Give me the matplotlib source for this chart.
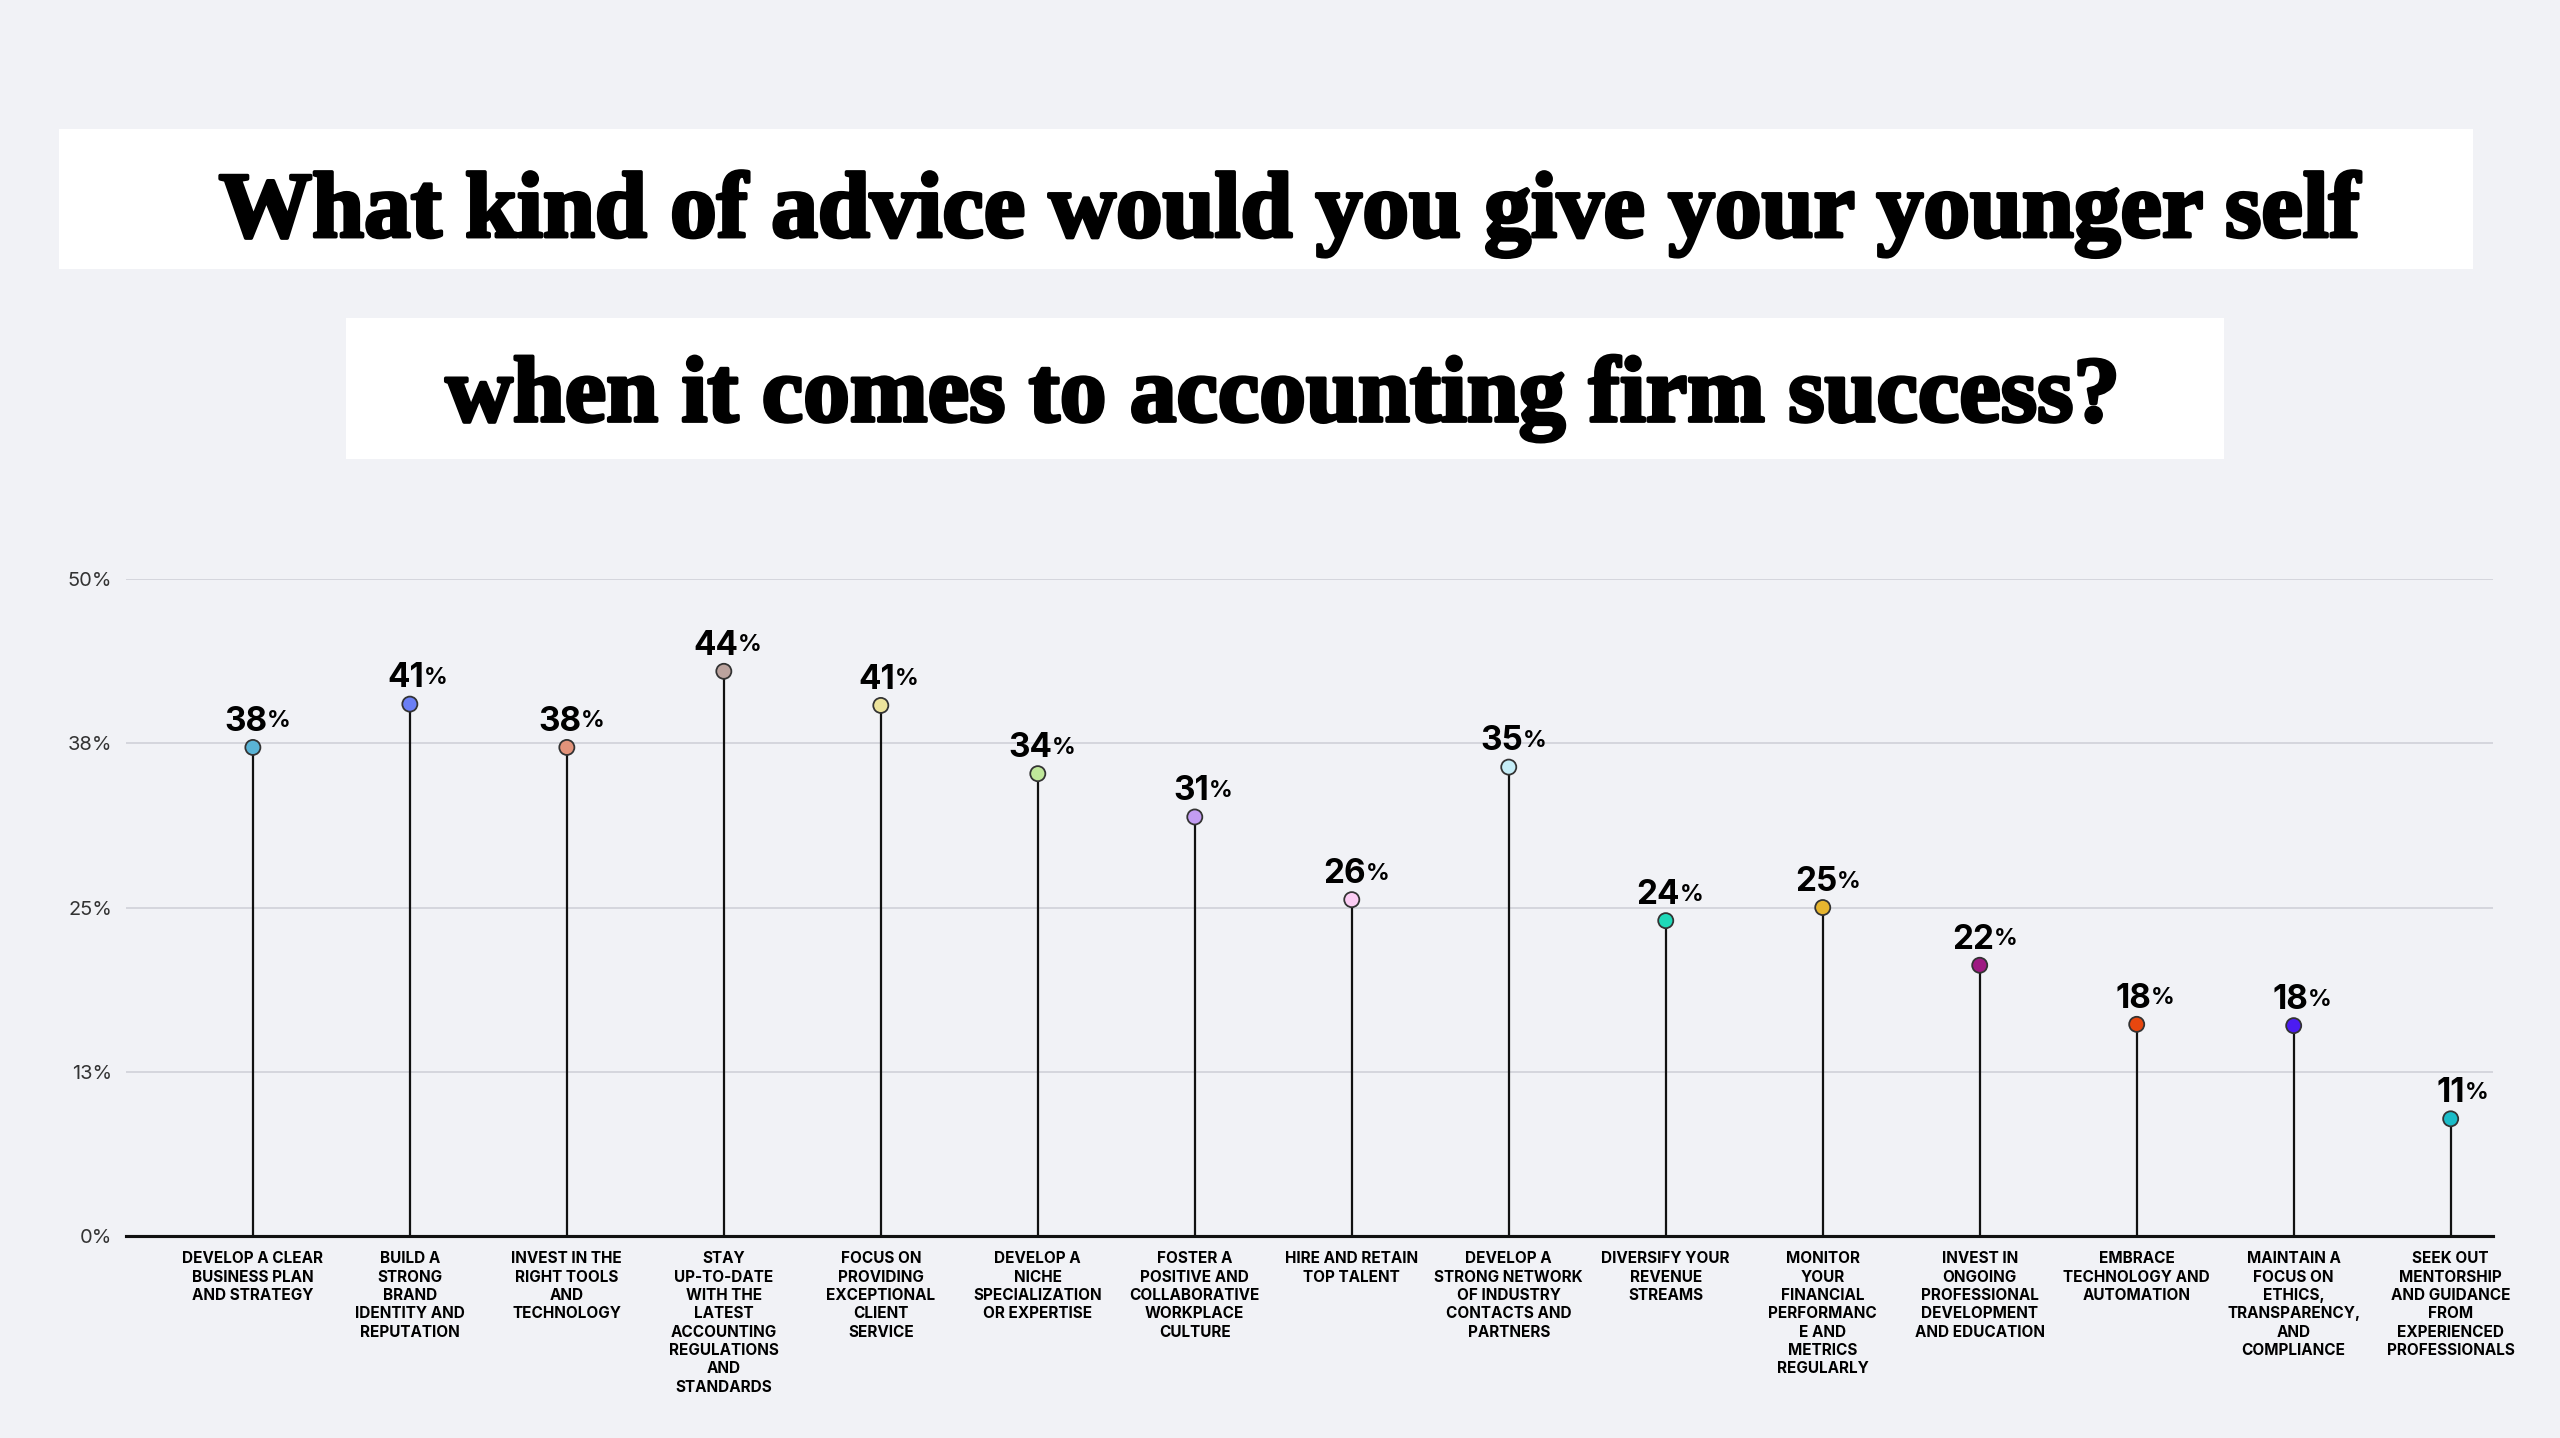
import numpy as np
import matplotlib.pyplot as plt
import matplotlib.patheffects as pe
from matplotlib.patches import Rectangle

# answer categories (wrapped like the original slide)
categories = [
    "DEVELOP A CLEAR\nBUSINESS PLAN\nAND STRATEGY",
    "BUILD A\nSTRONG\nBRAND\nIDENTITY AND\nREPUTATION",
    "INVEST IN THE\nRIGHT TOOLS\nAND\nTECHNOLOGY",
    "STAY\nUP-TO-DATE\nWITH THE\nLATEST\nACCOUNTING\nREGULATIONS\nAND\nSTANDARDS",
    "FOCUS ON\nPROVIDING\nEXCEPTIONAL\nCLIENT\nSERVICE",
    "DEVELOP A\nNICHE\nSPECIALIZATION\nOR EXPERTISE",
    "FOSTER A\nPOSITIVE AND\nCOLLABORATIVE\nWORKPLACE\nCULTURE",
    "HIRE AND RETAIN\nTOP TALENT",
    "DEVELOP A\nSTRONG NETWORK\nOF INDUSTRY\nCONTACTS AND\nPARTNERS",
    "DIVERSIFY YOUR\nREVENUE\nSTREAMS",
    "MONITOR\nYOUR\nFINANCIAL\nPERFORMANC\nE AND\nMETRICS\nREGULARLY",
    "INVEST IN\nONGOING\nPROFESSIONAL\nDEVELOPMENT\nAND EDUCATION",
    "EMBRACE\nTECHNOLOGY AND\nAUTOMATION",
    "MAINTAIN A\nFOCUS ON\nETHICS,\nTRANSPARENCY,\nAND\nCOMPLIANCE",
    "SEEK OUT\nMENTORSHIP\nAND GUIDANCE\nFROM\nEXPERIENCED\nPROFESSIONALS",
]
# printed percentages
pct_labels = [38, 41, 38, 44, 41, 34, 31, 26, 35, 24, 25, 22, 18, 18, 11]
# where the dots actually sit on the axis
dot_heights = [37.2, 40.5, 37.2, 43.0, 40.4, 35.2, 31.9, 25.6, 35.7, 24.0, 25.0, 20.6, 16.1, 16.0, 8.9]
dot_colors = ["#5ab4d6", "#6b7ff5", "#e3937a", "#bba39e", "#ece39c", "#bfe79a", "#c29cf2",
              "#fccdf4", "#c6eef8", "#1fd9b9", "#e6b52f", "#9e1a82", "#e8470f", "#4b1cf2", "#1bbcc8"]
yticks = [0, 12.5, 25, 37.5, 50]
ytick_labels = ["0%", "13%", "25%", "38%", "50%"]
title_lines = ["What kind of advice would you give your younger self",
               "when it comes to accounting firm success?"]

bg = "#f1f2f6"
W, H = 1568, 881  # layout measured on a 1568 wide view of the slide

fig = plt.figure(figsize=(16, 8.9875), dpi=160, facecolor=bg)

# title boxes (white strips behind each title line)
boxes = [(36, 79, 1515, 165), (212, 195, 1362, 281)]
text_x = [790, 786]
baselines = [145, 258]
for (x0, y0, x1, y1), tx, base, line in zip(boxes, text_x, baselines, title_lines):
    fig.patches.append(Rectangle((x0 / W, 1 - y1 / H), (x1 - x0) / W, (y1 - y0) / H,
                                 transform=fig.transFigure, facecolor="white", edgecolor="none"))
    fig.text(tx / W, 1 - base / H, line, ha="center", va="baseline",
             fontsize=42, fontweight="bold", family="Liberation Serif", color="black",
             path_effects=[pe.withStroke(linewidth=1.6, foreground="black")])

ax = fig.add_axes([77 / W, 1 - 757 / H, 1450 / W, (757 - 355) / H])
ax.set_facecolor(bg)

x = np.arange(len(categories))
ax.vlines(x, 0, dot_heights, color="#111111", lw=1.0, zorder=2)
ax.scatter(x, dot_heights, s=46, c=dot_colors, edgecolors="#333333", linewidths=0.8, zorder=3, clip_on=False)

for xi, h, p in zip(x, dot_heights, pct_labels):
    t = ax.annotate(str(p), xy=(xi, h), xytext=(6.5, 7.5), textcoords="offset points",
                    ha="right", va="baseline", fontsize=15, fontweight="bold",
                    family="Inter", color="black")
    ax.annotate("%", xy=(1, 0), xycoords=t, xytext=(0, 2.4), textcoords="offset points",
                ha="left", va="bottom", fontsize=10.5, fontweight="bold", family="Inter", color="black")

ax.set_xlim(-0.81, len(categories) - 1 + 0.27)
ax.set_ylim(0, 50)
ax.set_yticks(yticks)
ax.set_yticklabels(ytick_labels, family="Inter", fontsize=9, color="#333333")
ax.set_xticks(x)
ax.set_xticklabels(categories, family="Inter", fontsize=6.9, fontweight="bold",
                   linespacing=1.28, va="top", ha="center")
ax.tick_params(axis="x", length=0, pad=7)
ax.tick_params(axis="y", length=0, pad=6)
ax.grid(axis="y", color="#d2d3da", lw=0.8)
ax.set_axisbelow(True)
for s in ["top", "right", "left"]:
    ax.spines[s].set_visible(False)
ax.spines["bottom"].set_color("#111111")
ax.spines["bottom"].set_linewidth(1.4)

fig.savefig("out.png", dpi=160, facecolor=bg)
